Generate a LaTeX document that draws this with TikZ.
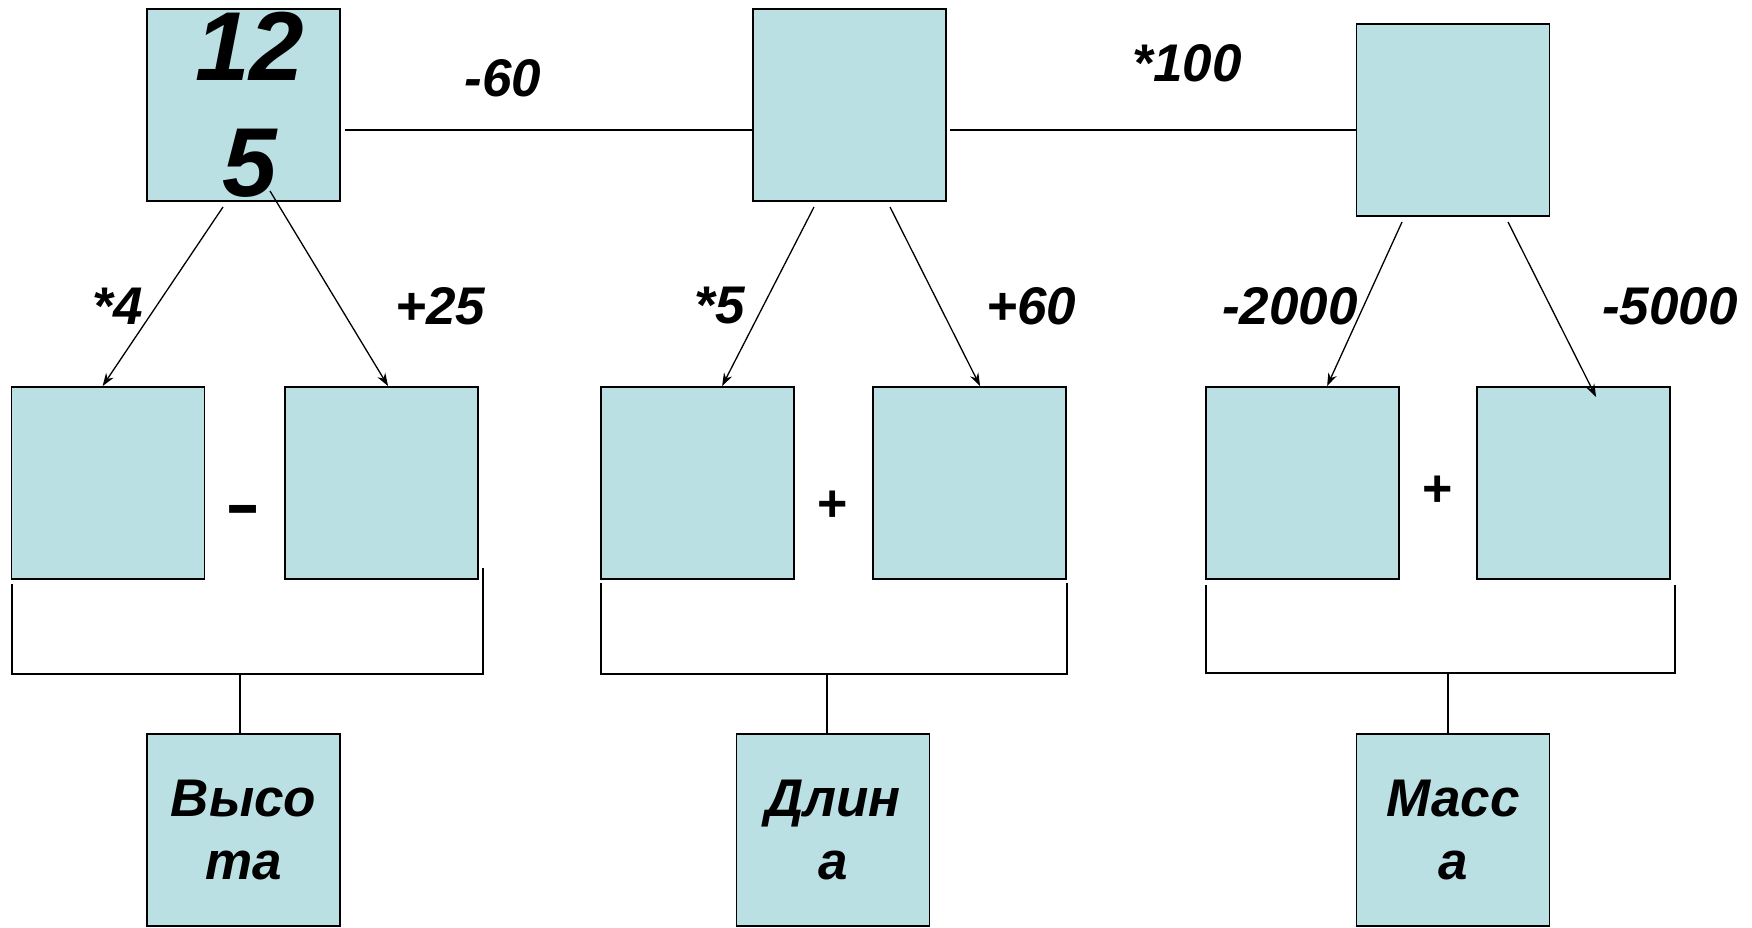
\documentclass[tikz,border=0pt]{standalone}
\usepackage{fontspec}
\setmainfont{Liberation Sans}
\usetikzlibrary{arrows.meta,calc}
\definecolor{boxfill}{RGB}{187,224,227}
\begin{document}
\begin{tikzpicture}[x=1pt,y=-1pt,
  box/.style={draw=black, line width=1.8pt, fill=boxfill, minimum width=193pt, minimum height=192pt, inner sep=0pt, align=center, font=\fontsize{53}{63}\selectfont\bfseries\itshape},
  bigtext/.style={font=\fontsize{98}{116}\selectfont\bfseries\itshape},
  lbl/.style={inner sep=0pt, font=\fontsize{53}{63}\selectfont\bfseries\itshape},
  opr/.style={inner sep=0pt, font=\fontsize{52}{52}\selectfont\bfseries},
  conn/.style={line width=2pt},
  arr/.style={line width=1.3pt, -{Stealth[length=13pt,width=9pt]}}
]
\useasboundingbox (0,0) rectangle (1752,927);
\fill[white] (0,0) rectangle (1752,927);

% top row
\node[box,bigtext] (T1) at (243.5,105) {\hspace*{12pt}12\\\hspace*{12pt}5};
\node[box] (T2) at (849.5,105) {};
\node[box] (T3) at (1453,120) {};

% middle row
\node[box] (M1) at (108,483) {};
\node[box] (M2) at (381.5,483) {};
\node[box] (M3) at (697.5,483) {};
\node[box] (M4) at (969.5,483) {};
\node[box] (M5) at (1302.5,483) {};
\node[box] (M6) at (1573.5,483) {};

% bottom row
\node[box] (B1) at (243.5,830) {Высо\\та};
\node[box] (B2) at (833,830) {Длин\\а};
\node[box] (B3) at (1453,830) {Масс\\а};

% horizontal connectors
\coordinate (l1s) at (345,130);
\coordinate (l2s) at (950,130);
\draw[conn] (l1s) -- (l1s -| T2.west);
\draw[conn] (l2s) -- (l2s -| T3.west);

% arrows
\coordinate (a1s) at (223,207);
\coordinate (a2s) at (270,191);
\coordinate (a3s) at (814,207);
\coordinate (a4s) at (890,207);
\coordinate (a5s) at (1402,222);
\coordinate (a6s) at (1508,222);
\coordinate (a1e) at ([xshift=92pt]M1.north west);
\coordinate (a2e) at ([xshift=104pt]M2.north west);
\coordinate (a3e) at ([xshift=122pt]M3.north west);
\coordinate (a4e) at ([xshift=108pt]M4.north west);
\coordinate (a5e) at ([xshift=122pt]M5.north west);
\coordinate (a6e) at ([shift={(120,11)}]M6.north west);
\draw[arr] (a1s) -- (a1e);
\draw[arr] (a2s) -- (a2e);
\draw[arr] (a3s) -- (a3e);
\draw[arr] (a4s) -- (a4e);
\draw[arr] (a5s) -- (a5e);
\draw[arr] (a6s) -- (a6e);

% labels
\node[lbl] (Lm60) at (503,78) {-60};
\node[lbl] (L100) at (1187,63) {*100};
\node[lbl] (L4) at (118,306) {*4};
\node[lbl] (L25) at (440,306) {+25};
\node[lbl] (L5) at (720,306) {*5};
\node[lbl] (L60) at (1031,306) {+60};
\node[lbl] (L2000) at (1290,306) {-2000};
\node[lbl] (L5000) at (1670,306) {-5000};

% operators
\node[inner sep=0pt, font=\fontsize{66}{66}\selectfont\bfseries] (op1) at (243,516) {\scalebox{1.6}[1]{-}};
\node[opr] (op2) at (833,506) {+};
\node[opr] (op3) at (1438,491) {+};

% brackets
\coordinate (br1a) at (11.5,584);
\coordinate (br1b) at (483,568);
\coordinate (br1m) at (240,674);
\draw[conn] (br1a) -- (br1a |- br1m) -- (br1b |- br1m) -- (br1b);
\draw[conn] (br1m) -- (br1m |- B1.north);

\coordinate (br2a) at (601,583);
\coordinate (br2b) at (1067,583);
\coordinate (br2m) at (827,674);
\draw[conn] (br2a) -- (br2a |- br2m) -- (br2b |- br2m) -- (br2b);
\draw[conn] (br2m) -- (br2m |- B2.north);

\coordinate (br3a) at (1206,585);
\coordinate (br3b) at (1675,585);
\coordinate (br3m) at (1448,673);
\draw[conn] (br3a) -- (br3a |- br3m) -- (br3b |- br3m) -- (br3b);
\draw[conn] (br3m) -- (br3m |- B3.north);
\end{tikzpicture}
\end{document}
